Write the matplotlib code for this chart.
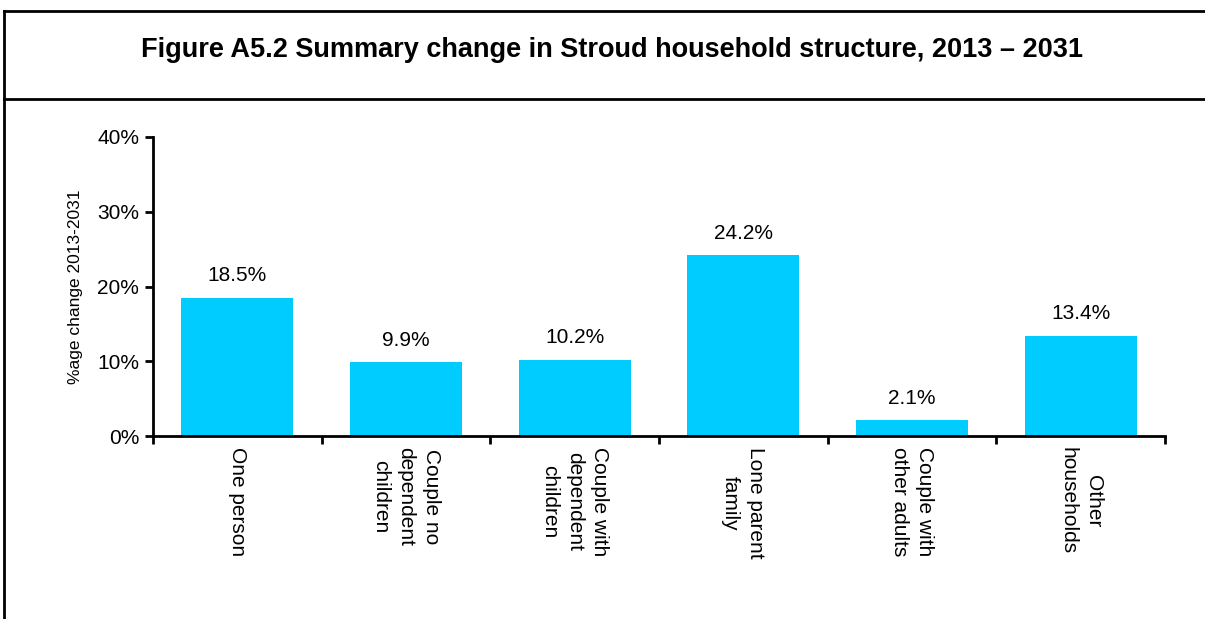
import matplotlib.pyplot as plt
from matplotlib.lines import Line2D
import numpy as np

plt.rcParams['font.family'] = ['Liberation Sans', 'DejaVu Sans']

# household types and % change 2013-2031
categories = ['One person', 'Couple no\ndependent\nchildren', 'Couple with\ndependent\nchildren',
              'Lone parent\nfamily', 'Couple with\nother adults', 'Other\nhouseholds']
change = [18.5, 9.9, 10.2, 24.2, 2.1, 13.4]
y_ticks = [0, 10, 20, 30, 40]

fig = plt.figure(figsize=(12.05, 6.19), dpi=100)
ax = fig.add_axes([0.127, 0.2956, 0.8398, 0.4831])

x = np.arange(len(categories))
bars = ax.bar(x, change, width=0.665, color='#00CCFF', zorder=2)

for xi, v in zip(x, change):
    ax.annotate('%.1f%%' % v, (xi, v), xytext=(0, 9), textcoords='offset points',
                ha='center', va='bottom', fontsize=15)

ax.set_xlim(-0.5, len(categories) - 0.5)
ax.set_ylim(0, 40)
ax.set_yticks(y_ticks)
ax.set_yticklabels(['%d%%' % t for t in y_ticks], fontsize=15)
ax.tick_params(axis='y', length=6, width=2, direction='out', pad=4)

# labels at the centres, tick marks at the boundaries
ax.set_xticks(x)
ax.set_xticklabels(categories, rotation=270, fontsize=15, ha='center', va='top',
                   multialignment='center', linespacing=1.42)
ax.set_xticks(np.arange(len(categories) + 1) - 0.5, minor=True)
ax.tick_params(axis='x', which='major', length=0, pad=8)
ax.tick_params(axis='x', which='minor', length=6, width=2, direction='out')

ax.set_ylabel('%age change 2013-2031', fontsize=12.5, labelpad=10)

for s in ['top', 'right']:
    ax.spines[s].set_visible(False)
ax.spines['left'].set_linewidth(2)
ax.spines['bottom'].set_linewidth(2)

# frame and title box
y_top = 1 - 11 / 619
y_sep = 1 - 99 / 619
x_left = 4 / 1205
fig.add_artist(Line2D([x_left, 1], [y_top, y_top], color='black', lw=2))
fig.add_artist(Line2D([x_left, 1], [y_sep, y_sep], color='black', lw=2))
fig.add_artist(Line2D([x_left, x_left], [0, y_top], color='black', lw=2))
fig.text(0.508, 1 - 50 / 619, 'Figure A5.2 Summary change in Stroud household structure, 2013 \u2013 2031',
         ha='center', va='center', fontsize=19.5, fontweight='bold')

fig.savefig('out.png', dpi=100)
